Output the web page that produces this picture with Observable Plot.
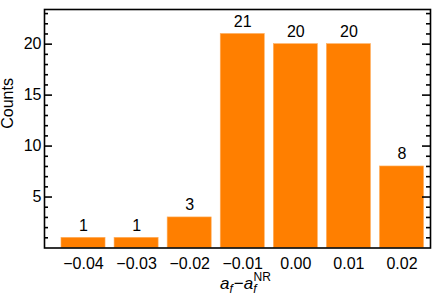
<!DOCTYPE html>
<html>
<head>
<meta charset="utf-8">
<script src="https://cdn.jsdelivr.net/npm/d3@7"></script>
<script src="https://cdn.jsdelivr.net/npm/@observablehq/plot@0.6"></script>
<style>
  html, body { margin: 0; padding: 0; background: #fff; }
  svg { display: block; }
</style>
</head>
<body>
<div id="chart"></div>
<script>
// Data
const bins = [-0.04, -0.03, -0.02, -0.01, 0.00, 0.01, 0.02];
const counts = [1, 1, 3, 21, 20, 20, 8];
const xTicks = [-0.04, -0.03, -0.02, -0.01, 0.00, 0.01, 0.02];
const yTicks = [5, 10, 15, 20];
const yMinor = [1,2,3,4,6,7,8,9,11,12,13,14,16,17,18,19,21,22,23];

const data = bins.map((b, i) => ({bin: b, count: counts[i]}));
const halfW = 0.00415;

const W = 436, H = 305;
const mL = 44, mR = 6, mT = 9, mB = 57.5;
const innerW = W - mL - mR;
const font = "'Liberation Sans', Arial, Helvetica, sans-serif";

const plot = Plot.plot({
  width: W,
  height: H,
  marginLeft: mL,
  marginRight: mR,
  marginTop: mT,
  marginBottom: mB,
  style: {fontFamily: font, fontSize: "16px", color: "black", background: "white"},
  x: {type: "linear", domain: [-0.04735, 0.02537]},
  y: {domain: [0, 23.4]},
  marks: [
    Plot.rectY(data, {x1: d => d.bin - halfW, x2: d => d.bin + halfW, y1: 0, y2: "count", fill: "#ff7f00", stroke: "#ffb060", strokeWidth: 0.6}),
    Plot.text(data, {x: "bin", y: "count", text: d => String(d.count), lineAnchor: "bottom", dy: -7, fontSize: 16, fill: "black"}),
    // inward ticks, left and right
    Plot.tickY(yTicks, {y: d => d, insetRight: innerW - 8, stroke: "black", strokeWidth: 1.6}),
    Plot.tickY(yMinor, {y: d => d, insetRight: innerW - 4, stroke: "black", strokeWidth: 1.6}),
    Plot.tickY(yTicks, {y: d => d, insetLeft: innerW - 8, stroke: "black", strokeWidth: 1.6}),
    Plot.tickY(yMinor, {y: d => d, insetLeft: innerW - 4, stroke: "black", strokeWidth: 1.6}),
    Plot.axisX({ticks: xTicks, tickFormat: d3.format(".2f"), tickSize: 0, tickPadding: 10, fontSize: 16, label: null}),
    Plot.axisY({ticks: yTicks, tickFormat: d3.format("d"), tickSize: 0, tickPadding: 3, fontSize: 16, label: null}),
    Plot.text(["Counts"], {frameAnchor: "left", dx: -37, rotate: -90, text: d => d, fontSize: 16, fill: "black"}),
    Plot.frame({stroke: "black", strokeWidth: 1.6})
  ]
});

document.getElementById("chart").appendChild(plot);

// x-axis label with math formatting
const svg = d3.select(plot);
const lbl = svg.append("text")
  .attr("x", 220)
  .attr("y", 289)
  .attr("text-anchor", "start")
  .attr("font-family", font)
  .attr("font-size", 17)
  .attr("fill", "black");
lbl.append("tspan").attr("font-style", "italic").text("a");
lbl.append("tspan").attr("font-style", "italic").attr("font-size", 12).attr("dy", 4).text("f");
lbl.append("tspan").attr("dy", -4).attr("dx", 1).text("\u2212");
lbl.append("tspan").attr("font-style", "italic").text("a");
lbl.append("tspan").attr("font-style", "italic").attr("font-size", 12).attr("dy", 4).text("f");
lbl.append("tspan").attr("font-size", 12).attr("dy", -12).attr("dx", -3).text("NR");
</script>
</body>
</html>
